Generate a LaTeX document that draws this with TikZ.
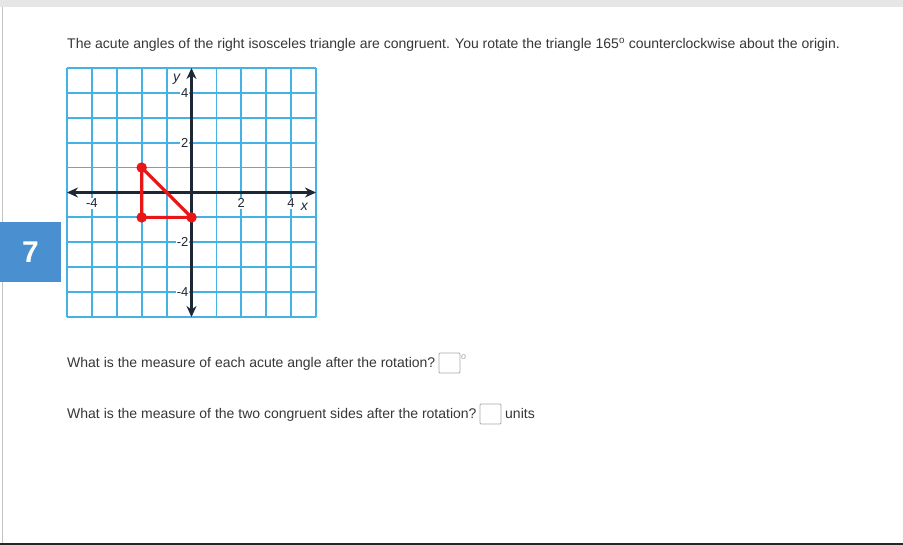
\documentclass[tikz,border=0pt]{standalone}
\usepackage{fontspec}
\setmainfont{Liberation Sans}
\usetikzlibrary{arrows.meta}
\definecolor{gridblue}{RGB}{68,178,228}
\definecolor{axisnavy}{RGB}{28,40,54}
\definecolor{trired}{RGB}{232,22,22}
\definecolor{badge}{RGB}{74,144,208}
\definecolor{txt}{RGB}{55,55,55}
\definecolor{topbar}{RGB}{230,230,230}
\definecolor{boxgray}{RGB}{170,170,170}
\tikzset{
  qtext/.style={anchor=base west,inner sep=0pt,text=txt,font=\fontsize{14}{16}\selectfont},
  ansbox/.style={draw=boxgray,fill=white,line width=0.8pt,rounded corners=1pt,minimum width=21pt,minimum height=20pt,inner sep=0pt},
  axlabel/.style={fill=white,inner sep=1pt,text=axisnavy,font=\fontsize{13}{15}\selectfont},
  axvar/.style={inner sep=0pt,text=axisnavy,font=\fontsize{14}{16}\selectfont\itshape},
  axisline/.style={draw=axisnavy,line width=2.4pt,{Stealth[length=11pt,width=10pt]}-{Stealth[length=11pt,width=10pt]}},
  vdot/.style={circle,fill=trired,inner sep=0pt,minimum size=10.5pt},
}
\begin{document}
\begin{tikzpicture}[x=1pt,y=-1pt]
\useasboundingbox (0,0) rectangle (903,545);
\fill[white] (0,0) rectangle (903,545);
% frame
\fill[topbar] (0,0) rectangle (903,7);
\draw[boxgray!70,line width=1pt] (2,7) -- (2,545);
\draw[black!85,line width=1.5pt] (0,544.2) -- (903,544.2);
% badge
\node[fill=badge,minimum width=61pt,minimum height=60pt,inner sep=0pt,text=white,font=\fontsize{30}{32}\selectfont\bfseries] (badge) at (30.5,252) {7};
% question
\node[qtext] (q) at (67,49) {The acute angles of the right isosceles triangle are congruent. You rotate the triangle 165\textsuperscript{o} counterclockwise about the origin.};
% graph
\begin{scope}[shift={(191.5,192.5)},x=24.9pt,y=24.9pt]
  \foreach \k in {-5,...,5} {
    \draw[gridblue,line width=1.8pt] (\k,-5) -- (\k,5);
    \draw[gridblue,line width=1.8pt] (-5,\k) -- (5,\k);
  }
  \draw[axisline] (-5,0) coordinate (xl) -- (5,0) coordinate (xr);
  \draw[axisline] (0,-5) coordinate (yb) -- (0,5) coordinate (yt);
  \node[axlabel] (xm4) at (-4,-0.43) {-4};
  \node[axlabel] (x2) at (2,-0.43) {2};
  \node[axlabel] (x4) at (4,-0.43) {4};
  \node[axlabel,anchor=east] (y4) at (-0.08,4) {4};
  \node[axlabel,anchor=east] (y2) at (-0.08,2) {2};
  \node[axlabel,anchor=east] (ym2) at (-0.08,-2) {-2};
  \node[axlabel,anchor=east] (ym4) at (-0.08,-4) {-4};
  \node[axvar] (xv) at (4.53,-0.56) {x};
  \node[axvar] (yv) at (-0.6,4.53) {y};
  \coordinate (A) at (-2,1);
  \coordinate (B) at (-2,-1);
  \coordinate (C) at (0,-1);
  \draw[trired,line width=3.2pt,line join=round] (A) -- (B) -- (C) -- cycle;
  \node[vdot] (dA) at (A) {};
  \node[vdot] (dB) at (B) {};
  \node[vdot] (dC) at (C) {};
\end{scope}
% answer lines
\node[qtext] (q1) at (67,368) {What is the measure of each acute angle after the rotation?};
\node[ansbox] (b1) at (449.5,363) {};
\node[inner sep=0pt,text=boxgray,font=\fontsize{9}{10}\selectfont] (deg) at (463.5,357) {o};
\node[qtext] (q2) at (67,419) {What is the measure of the two congruent sides after the rotation?};
\node[ansbox] (b2) at (490.5,414) {};
\node[qtext] (units) at (505,419) {units};
\end{tikzpicture}
\end{document}
